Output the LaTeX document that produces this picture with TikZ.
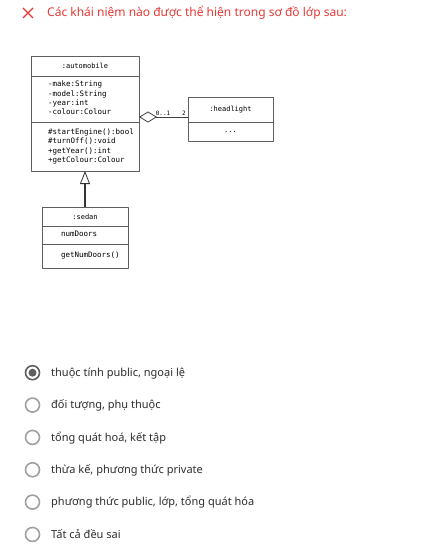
\documentclass[tikz,border=0pt]{standalone}
\usepackage{fontspec}
\setmainfont{Noto Sans}
\newfontfamily\umlfont{DejaVu Sans Mono}
\usetikzlibrary{arrows,arrows.meta,positioning,calc}
\definecolor{quizred}{RGB}{229,57,53}
\definecolor{umlgray}{RGB}{95,95,95}
\definecolor{optgray}{RGB}{45,45,45}
\definecolor{radiogray}{RGB}{160,160,160}
\definecolor{radiodark}{RGB}{95,95,95}
\tikzset{
  umlbox/.style={draw=umlgray,line width=0.7pt,anchor=north west,inner sep=0pt,outer sep=0pt},
  umltitle/.style={umlbox,font=\umlfont\fontsize{7}{8}\selectfont},
  umllist/.style={umlbox,font=\umlfont\fontsize{7.5}{9.3}\selectfont,align=left},
  radio/.style={circle,draw=radiogray,line width=1.6pt,minimum size=14pt,inner sep=0pt},
  option/.style={anchor=base west,inner sep=0pt,font=\fontsize{11}{13}\selectfont,text=optgray},
}
\newcommand{\members}[2]{\begin{tabular}{@{\hspace{#1}}l@{}}#2\end{tabular}}

\begin{document}
\begin{tikzpicture}[x=1pt,y=-1pt,>=latex',line join=bevel]
\useasboundingbox (0,0) rectangle (435,556);
%% question
\draw [quizred,line width=1.4pt] (23,8) -- (33,18) (23,18) -- (33,8);
\node (title) at (47,17) [anchor=base west,inner sep=0pt,text=quizred,font=\fontsize{12}{14}\selectfont] {Các khái niệm nào được thể hiện trong sơ đồ lớp sau:};
%% class automobile
\node (autoH) at (31,56) [umltitle,minimum width=108,minimum height=20] {:automobile};
\node (autoA) at (31,76) [umllist,text width=108pt,minimum height=46] {\members{17pt}{-make:String\\-model:String\\-year:int\\-colour:Colour}};
\node (autoM) at (31,122) [umllist,text width=108pt,minimum height=49] {\members{17pt}{\#startEngine():bool\\\#turnOff():void\\+getYear():int\\+getColour:Colour}};
%% class headlight
\node (lightH) at (188,97) [umltitle,minimum width=85,minimum height=25] {:headlight};
\node (lightB) at (188,122) [umltitle,minimum width=85,minimum height=19] {...};
%% class sedan
\node (sedanH) at (42,207) [umltitle,minimum width=86,minimum height=19] {:sedan};
\node (sedanA) at (42,226) [umllist,text width=86pt,minimum height=18] {\members{19pt}{numDoors}};
\node (sedanM) at (42,244) [umllist,text width=86pt,minimum height=24] {\members{19pt}{getNumDoors()}};
%% relations
\coordinate (agg) at (autoA.east |- 0,117);
\draw [black!75,line width=0.8pt,-{Diamond[open,length=18pt,width=11pt]}] (lightH.west |- agg) -- (agg);
\node (m01) at (163,113) [inner sep=0pt,font=\umlfont\fontsize{6}{7}\selectfont] {0..1};
\node (m2) at (184,113) [inner sep=0pt,font=\umlfont\fontsize{6}{7}\selectfont] {2};
\draw [black!80,line width=1.1pt,-{Triangle[open,length=13pt,width=10pt,line width=0.8pt]}] (sedanH.north) -- (autoM.south);
%% answers
\node (radio0) at (32.5,372.7) [radio,draw=radiodark] {};
\fill [radiodark] (radio0) circle (4pt);
\node (opt0) at (51,376.5) [option] {thuộc tính public, ngoại lệ};
\foreach \txt [count=\i] in {{đối tượng, phụ thuộc},{tổng quát hoá, kết tập},{thừa kế, phương thức private},{phương thức public, lớp, tổng quát hóa},{Tất cả đều sai}}{
  \pgfmathsetmacro{\yy}{372.7+32.35*\i}
  \node (radio\i) at (32.5,\yy) [radio] {};
  \node (opt\i) at (51,\yy+3.8) [option] {\txt};
}
%
\end{tikzpicture}
\end{document}
